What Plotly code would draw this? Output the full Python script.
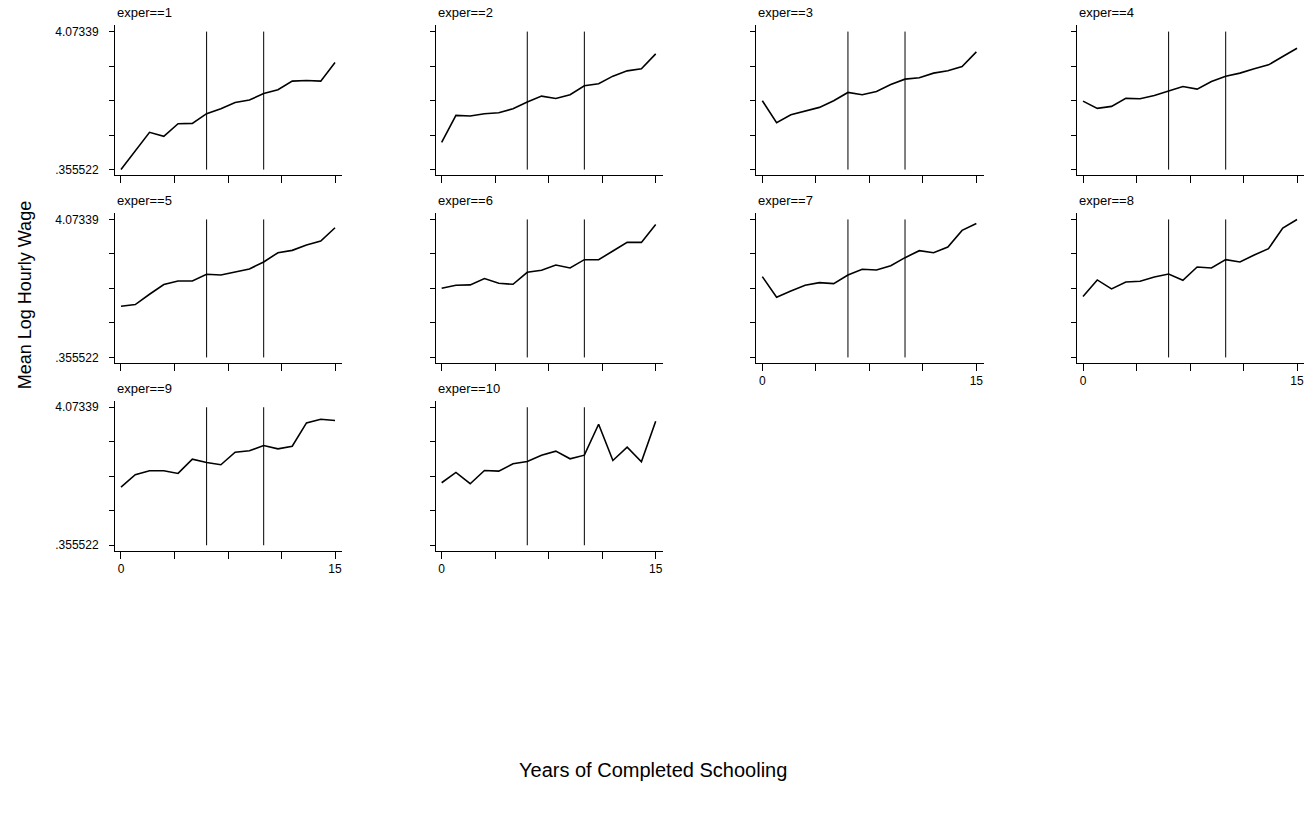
import plotly.graph_objects as go

# Years of completed schooling (x) and experience groups
schooling = list(range(16))
exper_levels = [1, 2, 3, 4, 5, 6, 7, 8, 9, 10]

# Mean log hourly wage by schooling, one list per experience level
wage_exper1 = [0.356, 0.848, 1.359, 1.251, 1.592, 1.601, 1.861, 1.995,
               2.165, 2.228, 2.407, 2.506, 2.739, 2.757, 2.739, 3.240]
wage_exper2 = [1.090, 1.816, 1.798, 1.861, 1.887, 1.995, 2.174, 2.335,
               2.273, 2.371, 2.613, 2.667, 2.873, 3.016, 3.070, 3.473]
wage_exper3 = [2.210, 1.619, 1.834, 1.923, 2.031, 2.210, 2.434, 2.371,
               2.461, 2.649, 2.792, 2.828, 2.954, 3.016, 3.133, 3.527]
wage_exper4 = [2.201, 2.004, 2.058, 2.273, 2.264, 2.353, 2.470, 2.595,
               2.524, 2.730, 2.873, 2.954, 3.070, 3.177, 3.401, 3.625]
wage_exper5 = [1.735, 1.780, 2.058, 2.318, 2.416, 2.416, 2.595, 2.577,
               2.658, 2.739, 2.927, 3.177, 3.240, 3.383, 3.491, 3.849]
wage_exper6 = [2.219, 2.300, 2.309, 2.479, 2.353, 2.326, 2.649, 2.703,
               2.846, 2.765, 2.989, 2.989, 3.222, 3.455, 3.455, 3.939]
wage_exper7 = [2.532, 1.977, 2.147, 2.300, 2.371, 2.344, 2.577, 2.730,
               2.712, 2.828, 3.043, 3.231, 3.177, 3.330, 3.778, 3.966]
wage_exper8 = [1.995, 2.443, 2.201, 2.389, 2.407, 2.524, 2.604, 2.434,
               2.792, 2.765, 2.989, 2.927, 3.115, 3.285, 3.840, 4.073]
wage_exper9 = [1.923, 2.255, 2.362, 2.362, 2.291, 2.676, 2.586, 2.524,
               2.864, 2.900, 3.043, 2.954, 3.025, 3.652, 3.751, 3.715]
wage_exper10 = [2.040, 2.318, 2.013, 2.371, 2.353, 2.550, 2.613, 2.783,
                2.891, 2.685, 2.783, 3.616, 2.640, 2.998, 2.604, 3.697]

wage_series = [wage_exper1, wage_exper2, wage_exper3, wage_exper4, wage_exper5,
               wage_exper6, wage_exper7, wage_exper8, wage_exper9, wage_exper10]

# Reference lines and axis ticks
school_lines = [6, 10]
y_low = 0.355522
y_high = 4.07339
y_tick_vals = [y_low + k * (y_high - y_low) / 4 for k in range(5)]
y_tick_text = [".355522", "", "", "", "4.07339"]
x_tick_vals = [0, 3.75, 7.5, 11.25, 15]
x_tick_text = ["0", "", "", "", "15"]

W, H = 1306, 813
FONT = "Liberation Sans, Arial, Helvetica, sans-serif"
n_cols = 4
col_left0, col_step, col_width = 115.0, 320.67, 227.3
row_top0, row_step, row_height = 25.0, 188.3, 150.67
x_range = [-0.42, 15.51]
y_range = [0.2035, 4.2526]

fig = go.Figure()
annotations = []

n_panels = len(exper_levels)
for i, (level, wages) in enumerate(zip(exper_levels, wage_series)):
    r, c = divmod(i, n_cols)
    n = i + 1
    sfx = "" if n == 1 else str(n)
    left = col_left0 + c * col_step
    top = row_top0 + r * row_step
    x_dom = [left / W, (left + col_width) / W]
    y_dom = [1 - (top + row_height) / H, 1 - top / H]

    # panel is the bottom one in its column if nothing sits below it
    bottom_of_column = (i + n_cols) >= n_panels
    first_column = c == 0

    fig.add_trace(go.Scatter(
        x=schooling, y=wages, mode="lines",
        line=dict(color="black", width=1.6),
        xaxis="x" + sfx, yaxis="y" + sfx, showlegend=False,
        hoverinfo="skip",
    ))
    vx, vy = [], []
    for s in school_lines:
        vx += [s, s, None]
        vy += [y_low, y_high, None]
    fig.add_trace(go.Scatter(
        x=vx, y=vy, mode="lines",
        line=dict(color="black", width=1),
        xaxis="x" + sfx, yaxis="y" + sfx, showlegend=False,
        hoverinfo="skip",
    ))

    fig.update_layout(**{
        "xaxis" + sfx: dict(
            domain=x_dom, range=x_range, anchor="y" + sfx,
            showgrid=False, zeroline=False,
            showline=True, linecolor="black", linewidth=1,
            ticks="outside", ticklen=7, tickwidth=1, tickcolor="black",
            tickvals=x_tick_vals,
            ticktext=x_tick_text if bottom_of_column else [""] * 5,
            tickfont=dict(family=FONT, size=12, color="black"),
            fixedrange=True,
        ),
        "yaxis" + sfx: dict(
            domain=y_dom, range=y_range, anchor="x" + sfx,
            showgrid=False, zeroline=False,
            showline=True, linecolor="black", linewidth=1,
            ticks="outside", ticklen=5, tickwidth=1, tickcolor="black",
            tickvals=y_tick_vals,
            ticktext=y_tick_text if first_column else [""] * 5,
            tickfont=dict(family=FONT, size=12, color="black"),
            ticklabelstandoff=8,
            fixedrange=True,
        ),
    })

    annotations.append(dict(
        text=f"exper=={level}", xref="paper", yref="paper",
        x=left / W, y=1 - (top - 12.5) / H,
        xanchor="left", yanchor="middle", showarrow=False,
        font=dict(family=FONT, size=13, color="black"),
    ))

annotations.append(dict(
    text="Mean Log Hourly Wage", xref="paper", yref="paper",
    x=25 / W, y=1 - 296 / H, textangle=-90,
    xanchor="center", yanchor="middle", showarrow=False,
    font=dict(family=FONT, size=18, color="black"),
))
annotations.append(dict(
    text="Years of Completed Schooling", xref="paper", yref="paper",
    x=653 / W, y=1 - 772 / H,
    xanchor="center", yanchor="middle", showarrow=False,
    font=dict(family=FONT, size=20, color="black"),
))

fig.update_layout(
    width=W, height=H,
    margin=dict(l=0, r=0, t=0, b=0),
    paper_bgcolor="white", plot_bgcolor="white",
    annotations=annotations,
    showlegend=False,
)

fig.write_html("out.html")
